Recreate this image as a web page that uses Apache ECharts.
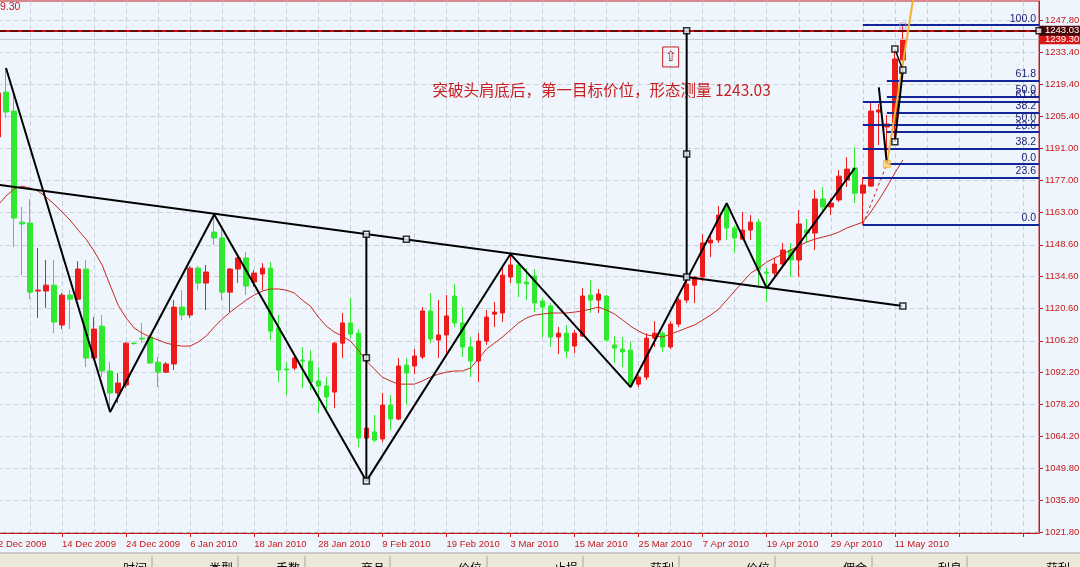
<!DOCTYPE html>
<html><head><meta charset="utf-8">
<script src="https://cdn.jsdelivr.net/npm/echarts@6/dist/echarts.min.js"></script>
<style>html,body{margin:0;padding:0;background:#eef5fc;}#c{width:1080px;height:567px;}</style>
</head><body><div id="c"></div>
<script>
// ---- data ----
const dates = ['2 Dec 2009','3 Dec 2009','4 Dec 2009','7 Dec 2009','8 Dec 2009','9 Dec 2009','10 Dec 2009','11 Dec 2009',
'14 Dec 2009','15 Dec 2009','16 Dec 2009','17 Dec 2009','18 Dec 2009','21 Dec 2009','22 Dec 2009','23 Dec 2009',
'24 Dec 2009','28 Dec 2009','29 Dec 2009','30 Dec 2009','31 Dec 2009','1 Jan 2010','4 Jan 2010','5 Jan 2010',
'6 Jan 2010','7 Jan 2010','8 Jan 2010','11 Jan 2010','12 Jan 2010','13 Jan 2010','14 Jan 2010','15 Jan 2010',
'18 Jan 2010','19 Jan 2010','20 Jan 2010','21 Jan 2010','22 Jan 2010','25 Jan 2010','26 Jan 2010','27 Jan 2010',
'28 Jan 2010','29 Jan 2010','1 Feb 2010','2 Feb 2010','3 Feb 2010','4 Feb 2010','5 Feb 2010','8 Feb 2010',
'9 Feb 2010','10 Feb 2010','11 Feb 2010','12 Feb 2010','15 Feb 2010','16 Feb 2010','17 Feb 2010','18 Feb 2010',
'19 Feb 2010','22 Feb 2010','23 Feb 2010','24 Feb 2010','25 Feb 2010','26 Feb 2010','1 Mar 2010','2 Mar 2010',
'3 Mar 2010','4 Mar 2010','5 Mar 2010','8 Mar 2010','9 Mar 2010','10 Mar 2010','11 Mar 2010','12 Mar 2010',
'15 Mar 2010','16 Mar 2010','17 Mar 2010','18 Mar 2010','19 Mar 2010','22 Mar 2010','23 Mar 2010','24 Mar 2010',
'25 Mar 2010','26 Mar 2010','29 Mar 2010','30 Mar 2010','31 Mar 2010','1 Apr 2010','5 Apr 2010','6 Apr 2010',
'7 Apr 2010','8 Apr 2010','9 Apr 2010','12 Apr 2010','13 Apr 2010','14 Apr 2010','15 Apr 2010','16 Apr 2010',
'19 Apr 2010','20 Apr 2010','21 Apr 2010','22 Apr 2010','23 Apr 2010','26 Apr 2010','27 Apr 2010','28 Apr 2010',
'29 Apr 2010','30 Apr 2010','3 May 2010','4 May 2010','5 May 2010','6 May 2010','7 May 2010','10 May 2010',
'11 May 2010','12 May 2010'];
const emptySlots = 17;

// [open, close, low, high]
const ohlc = [
[1196.2,1215.6,1194.8,1216.9],[1216.0,1207.2,1204.5,1226.6],[1207.6,1160.4,1147.6,1214.7],[1158.6,1157.8,1135.2,1165.3],
[1158.2,1127.7,1124.6,1168.8],[1128.2,1128.6,1116.3,1147.2],[1128.2,1130.8,1120.7,1141.9],[1130.8,1114.5,1109.6,1141.9],
[1113.2,1126.4,1111.4,1127.3],[1126.4,1124.6,1111.4,1128.6],[1124.6,1137.9,1124.2,1141.4],[1137.9,1098.6,1094.6,1141.9],
[1098.6,1111.4,1097.7,1116.7],[1112.7,1092.9,1090.2,1117.6],[1092.9,1083.2,1074.8,1096.8],[1083.2,1087.6,1078.8,1092.0],
[1086.7,1105.2,1085.4,1105.7],[1105.2,1105.0,1104.4,1105.7],[1107.4,1107.0,1105.2,1114.1],[1107.9,1096.4,1096.0,1108.8],
[1096.8,1092.4,1085.8,1099.1],[1092.4,1096.0,1092.0,1096.8],[1096.0,1121.1,1093.3,1124.2],[1121.1,1117.6,1115.4,1128.6],
[1117.6,1138.3,1116.3,1139.2],[1138.3,1131.7,1128.6,1139.2],[1131.7,1136.6,1119.8,1139.7],[1154.2,1151.6,1148.5,1162.0],
[1151.6,1127.7,1124.2,1156.0],[1127.7,1137.9,1118.9,1138.3],[1137.9,1142.8,1131.7,1143.6],[1142.8,1130.4,1126.4,1145.4],
[1132.2,1136.1,1130.0,1137.5],[1135.7,1138.3,1128.6,1140.5],[1138.3,1110.5,1106.6,1141.0],[1111.9,1093.3,1088.0,1117.6],
[1093.8,1093.3,1082.3,1096.8],[1094.2,1098.6,1093.3,1099.9],[1097.7,1097.3,1085.4,1103.5],[1097.3,1088.0,1084.5,1102.1],
[1088.5,1086.3,1074.3,1094.6],[1086.3,1081.4,1075.7,1090.2],[1083.6,1105.2,1076.5,1105.7],[1105.2,1114.1,1098.6,1118.5],
[1114.1,1109.2,1107.4,1125.1],[1109.6,1063.3,1059.3,1111.4],[1063.3,1067.7,1044.3,1068.2],[1066.0,1062.4,1061.5,1073.5],
[1062.9,1077.9,1061.5,1083.2],[1077.9,1071.7,1066.8,1082.3],[1071.7,1095.1,1071.2,1098.6],[1095.5,1092.0,1077.9,1098.6],
[1095.1,1099.5,1091.5,1102.6],[1099.1,1119.4,1098.2,1121.1],[1119.4,1107.0,1105.2,1127.3],[1106.6,1108.8,1098.6,1124.2],
[1108.8,1117.2,1100.8,1126.4],[1126.0,1114.1,1112.3,1131.3],[1114.1,1103.5,1099.1,1121.1],[1103.5,1097.3,1090.2,1107.9],
[1097.3,1106.1,1088.0,1109.6],[1106.1,1116.7,1104.4,1119.8],[1118.0,1118.9,1112.3,1123.3],[1118.5,1135.2,1114.5,1138.8],
[1134.4,1139.7,1131.7,1144.5],[1139.7,1131.7,1125.5,1141.0],[1132.2,1131.3,1124.2,1138.3],[1134.8,1122.9,1118.9,1137.9],
[1123.8,1121.1,1107.9,1125.1],[1121.6,1107.9,1103.5,1122.9],[1107.9,1109.6,1100.4,1112.3],[1109.6,1101.7,1098.6,1113.2],
[1103.9,1109.6,1100.8,1111.0],[1108.3,1126.0,1107.9,1129.5],[1126.4,1124.2,1118.5,1133.0],[1124.2,1126.9,1118.5,1129.1],
[1126.0,1106.6,1105.7,1126.4],[1104.4,1103.0,1096.4,1108.3],[1102.6,1101.3,1094.6,1107.9],[1102.1,1086.7,1085.8,1105.7],
[1087.1,1090.2,1085.8,1091.1],[1090.2,1107.4,1088.9,1109.6],[1107.4,1109.6,1103.5,1114.9],[1109.6,1103.5,1101.3,1110.5],
[1103.5,1113.6,1102.6,1114.9],[1113.6,1124.2,1112.3,1125.1],[1124.2,1131.3,1122.9,1133.0],[1130.8,1134.4,1122.9,1134.8],
[1134.4,1149.4,1132.6,1153.3],[1149.4,1150.7,1143.2,1152.9],[1150.7,1161.7,1149.4,1165.7],[1165.3,1156.0,1150.7,1167.0],
[1156.0,1151.6,1145.0,1157.3],[1151.1,1155.1,1150.7,1163.1],[1155.1,1158.6,1150.7,1161.7],[1158.6,1137.5,1130.0,1160.0],
[1136.6,1136.1,1123.4,1138.3],[1136.1,1140.1,1134.4,1142.8],[1140.1,1146.3,1138.8,1149.4],[1146.3,1141.9,1134.4,1149.4],
[1141.9,1157.8,1134.4,1163.9],[1155.1,1153.8,1149.4,1160.0],[1153.8,1168.8,1146.3,1172.8],[1168.8,1165.3,1162.6,1174.1],
[1165.3,1167.0,1161.7,1169.2],[1168.4,1178.9,1167.5,1181.6],[1177.2,1182.0,1174.1,1187.3],[1182.5,1171.4,1167.0,1191.7],
[1171.4,1175.0,1157.5,1178.5],[1174.5,1207.6,1174.1,1211.2],[1207.2,1208.1,1192.6,1210.7],[1200.6,1201.9,1184.2,1205.9],
[1202.3,1230.6,1194.8,1234.6],[1230.2,1239.3,1228.8,1245.5]];

const ma = [1166.1,1170.1,1173.2,1174.5,1173.6,1172.3,1169.7,1166.6,1163.1,1159.5,1155.1,1151.1,1145.8,1139.7,1130.8,1122.0,
1116.3,1111.9,1109.6,1107.9,1106.6,1105.2,1104.4,1103.9,1103.9,1105.7,1108.3,1112.3,1115.8,1118.9,1121.6,1124.2,
1126.4,1128.2,1129.1,1129.1,1128.6,1127.3,1124.2,1121.6,1116.7,1112.7,1110.1,1108.3,1106.1,1102.1,1097.3,1093.8,
1090.2,1088.5,1087.1,1087.1,1087.1,1088.5,1090.2,1091.5,1092.4,1092.9,1092.9,1094.2,1098.2,1102.6,1105.2,1107.9,
1111.0,1114.1,1116.3,1117.6,1118.0,1118.5,1118.5,1118.5,1118.9,1119.4,1120.2,1121.1,1119.8,1118.0,1115.4,1112.7,
1110.5,1108.8,1108.3,1107.9,1109.2,1110.5,1111.9,1113.2,1115.4,1117.6,1120.2,1124.2,1128.2,1132.2,1136.1,1138.3,
1141.0,1142.8,1144.5,1146.3,1148.1,1149.8,1151.1,1152.0,1152.9,1154.2,1156.0,1157.3,1158.6,1163.1,1168.4,1174.1,
1180.3,1186.0];

const yTicks = [1021.8,1035.8,1049.8,1064.2,1078.2,1092.2,1106.2,1120.6,1134.6,1148.6,1163.0,1177.0,1191.0,1205.4,1219.4,1233.4,1247.8];
const yMin = 1021.4, yMax = 1256.2;

// pattern drawings: [barIndex, price]
const zigzag = [[1,1226.6],[14,1074.8],[27,1162.0],[46,1044.3],[64,1144.5],[79,1085.8],[91,1167.0],[96,1129.5],[107,1182.5]];
const neckline = [[0,1175.1],[113,1121.6]];
const headMeasure = [[46,1153.3],[46,1044.3]];
const targetMeasure = [[86,1134.4],[86,1243.03]];
const anchorSquares = [[51,1151.0],[113,1121.6],[46,1153.3],[46,1098.8],[46,1044.3],[86,1134.4],[86,1188.7],[86,1243.03],[130,1243.03],
  [112,1235.0],[113,1225.7],[112,1194.1]];
const target = 1243.03, lastPrice = 1239.30;
const fibB = {start:108, low:1157.5, high:1245.5, levels:[0,23.6,38.2,50,61.8,100]};
const fibA = {start:111, low:1184.2, high:1244.0, levels:[0,23.6,38.2,50,61.8]};
const orangeTrend = [[111,1184.2],[115,1273.0]];
const smallZig = [[110,1218.1],[111,1184.5]];
const channelA = [[112,1194.1],[113,1225.7]];
const channelB = [[112,1235.0],[113,1225.7]];
const redDashed = [[108,1157.5],[111,1184.2]];
const noteText = '突破头肩底后，第一目标价位，形态测量 1243.03';
const noteAnchor = [54, 1216.9];
const arrowAnchor = [84, 1231.5];
const panelHeaders = ['时间','类型','手数','商品','价位','止损','获利','价位','佣金','利息','获利'];

// ---- chart ----
const RED = '#c41a1a', UP = '#ec1c1c', DOWN = '#2fe82f', NAVY = '#14249a';
const FONT = "'Liberation Sans', sans-serif";
const categories = dates.concat(new Array(emptySlots).fill(''));
const chart = echarts.init(document.getElementById('c'));

const fibLines = [];
[fibB, fibA].forEach(f => f.levels.forEach(l => {
  const p = f.low + (f.high - f.low) * l / 100;
  fibLines.push([{coord:[f.start, p], label:{formatter: l.toFixed(1)}}, {coord:[categories.length-1, p]}]);
}));

const lineSeries = (data, color, width, extra) => Object.assign({
  type:'line', data, symbol:'none', silent:true, animation:false,
  lineStyle:{color, width}, z:5
}, extra||{});

chart.setOption({
  animation:false,
  backgroundColor:'#eef5fc',
  grid:{left:-2, right:41, top:1, bottom:34, outerBoundsMode:'none', containLabel:false,
    show:true, backgroundColor:'#eef5fc', borderColor:RED, borderWidth:1},
  xAxis:{type:'category', data:categories, boundaryGap:false,
    axisLine:{lineStyle:{color:RED, width:1}},
    axisTick:{show:true, interval:7, length:4, lineStyle:{color:RED}},
    axisLabel:{interval:7, align:'left', color:RED, fontSize:9.5, fontFamily:FONT, margin:6, showMinLabel:true},
    splitLine:{show:true, interval:3, lineStyle:{color:'#c9d0da', type:[5,3], width:1}}},
  yAxis:{type:'value', position:'right', min:yMin, max:yMax, scale:true,
    axisLine:{show:true, lineStyle:{color:RED, width:1}},
    axisTick:{show:true, length:4, customValues:yTicks, lineStyle:{color:RED}},
    axisLabel:{customValues:yTicks, formatter:v=>v.toFixed(2), color:RED, fontSize:9.5, fontFamily:FONT, margin:6},
    splitLine:{show:true, lineStyle:{color:'#c9d0da', type:[5,3], width:1}}},
  series:[
    {type:'candlestick', data:ohlc, barWidth:5, z:3,
     itemStyle:{color:UP, color0:DOWN, borderColor:UP, borderColor0:DOWN, borderWidth:1}},
    lineSeries(ma, '#c8281e', 1, {z:4}),
    lineSeries(neckline, '#000', 2),
    lineSeries(zigzag, '#000', 2),
    lineSeries(headMeasure, '#000', 2),
    lineSeries(targetMeasure, '#000', 2),
    lineSeries(redDashed, '#d02020', 1, {z:4, lineStyle:{color:'#d02020', width:1, type:[3,3]}}),
    lineSeries(orangeTrend, '#f2b233', 2, {z:6}),
    lineSeries(smallZig, '#000', 2, {z:6}),
    lineSeries(channelA, '#000', 2, {z:6}),
    lineSeries(channelB, '#000', 1.5, {z:6}),
    {type:'scatter', data:anchorSquares, symbol:'rect', symbolSize:6, z:7, silent:true,
     itemStyle:{color:'#eef5fc', borderColor:'#000', borderWidth:1.5}},
    {type:'scatter', data:[orangeTrend[0]], symbol:'rect', symbolSize:7, z:7, silent:true,
     itemStyle:{color:'#ffd27a', borderColor:'#f2b233', borderWidth:1}},
    {type:'scatter', data:[[113,1245.2]], symbol:'rect', symbolSize:6, z:7, silent:true,
     itemStyle:{color:'rgba(0,0,0,0)', borderColor:'#b58ac8', borderWidth:1}},
    {type:'line', data:[], silent:true, z:2,
     markLine:{silent:true, symbol:'none', animation:false,
       lineStyle:{color:NAVY, width:2, type:'solid'},
       label:{position:'insideEndTop', color:'#1a1a70', fontSize:10.5, fontFamily:FONT, distance:[3,1]},
       data:fibLines}},
    {type:'line', data:[], silent:true, z:8,
     markLine:{silent:true, symbol:'none', animation:false,
       data:[
        {yAxis:lastPrice, lineStyle:{color:'#c3ccd8', width:1, type:'solid'},
         label:{position:'end', formatter:lastPrice.toFixed(2), color:'#fff', backgroundColor:'#d81818', fontSize:9.5, fontFamily:FONT, padding:[0,4,0,5], distance:1}},
        {yAxis:target, lineStyle:{color:'#c81010', width:2, type:'solid'}, label:{show:false}},
        {yAxis:target, lineStyle:{color:'#6e0606', width:2, type:[8,4]},
         label:{position:'end', formatter:target.toFixed(2), color:'#fff', backgroundColor:'#4a0606', fontSize:9.5, fontFamily:FONT, padding:[0,4,0,5], distance:1}}
       ]}}
  ]
});

const np = chart.convertToPixel({gridIndex:0}, noteAnchor);
const ap = chart.convertToPixel({gridIndex:0}, arrowAnchor);
const sepX = [152,238,305,390,487,583,679,775,872,967,1075];
const graphics = [
  {type:'text', left:0, top:2, style:{text:'9.30', fill:RED, fontSize:10.5, fontFamily:FONT}},
  {type:'text', x:np[0]+2, y:np[1], style:{text:noteText, fill:'#c81e1e', fontSize:15.5, fontFamily:'Noto Sans CJK SC', verticalAlign:'middle'}},
  {type:'rect', shape:{x:ap[0]-8, y:ap[1]-10, width:16, height:20}, style:{fill:'none', stroke:'#c81e1e', lineWidth:1}},
  {type:'text', x:ap[0], y:ap[1], style:{text:'⇧', fill:'#c81e1e', fontSize:14, fontFamily:'DejaVu Sans', align:'center', verticalAlign:'middle'}},
  {type:'rect', shape:{x:-1, y:553, width:1082, height:16}, style:{fill:'#ece9d8', stroke:'#a7a6aa', lineWidth:1}}
];
sepX.forEach((x, i) => {
  if (i < sepX.length - 1) graphics.push({type:'line', shape:{x1:x, y1:556, x2:x, y2:567}, style:{stroke:'#aca899', lineWidth:1}});
  graphics.push({type:'text', x:x-5, y:562.5, style:{text:panelHeaders[i], fill:'#000', fontSize:12, fontFamily:'Noto Sans CJK SC', align:'right', verticalAlign:'top'}});
});
chart.setOption({graphic:graphics});
</script></body></html>
